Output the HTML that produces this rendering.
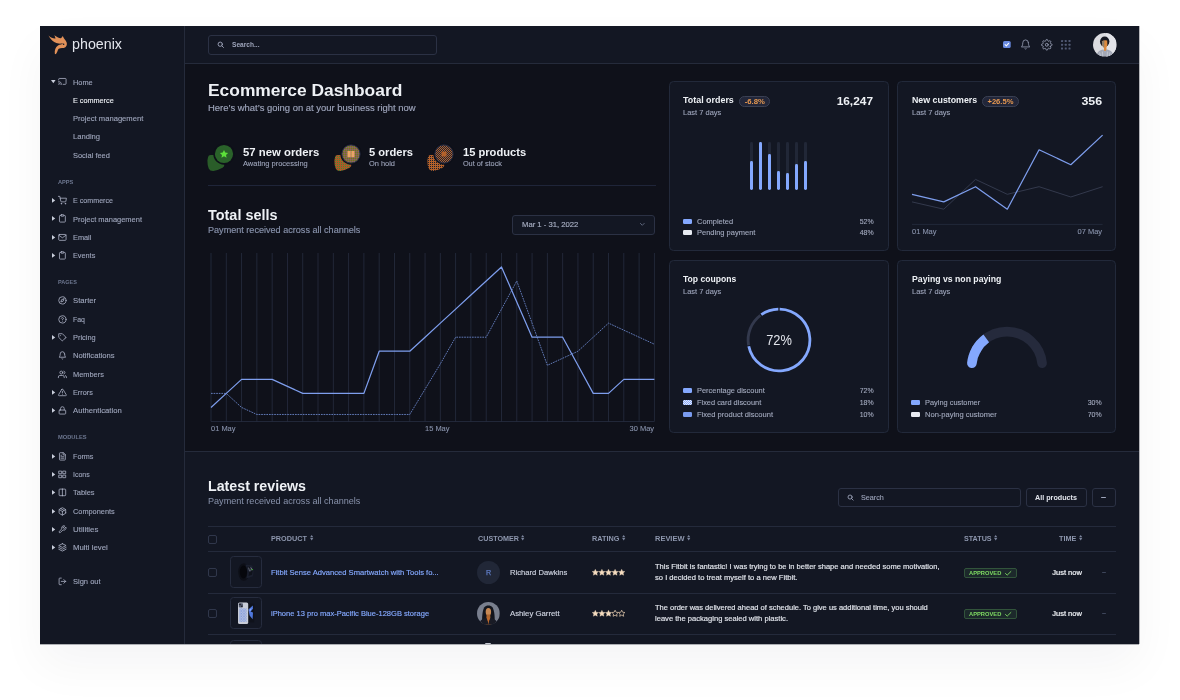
<!DOCTYPE html>
<html lang="en"><head><meta charset="utf-8"><title>Phoenix - Ecommerce Dashboard</title>
<style>
html,body{margin:0;padding:0;background:#fff;}
body{width:1180px;height:700px;overflow:hidden;position:relative;font-family:'Liberation Sans', sans-serif;}
#p{position:absolute;left:40px;top:26px;width:1099px;height:618px;background:#0f111a;overflow:hidden;box-shadow:0 22px 44px rgba(20,24,36,0.042);}
#q{position:absolute;left:0;top:0;width:1099px;height:618px;opacity:0.999;will-change:opacity;}
.b{position:absolute;box-sizing:border-box;}
.t{position:absolute;white-space:pre;line-height:1;margin:0;padding:0;font-weight:400;}
svg{overflow:visible;}
</style></head>
<body>
<div style="position:absolute;left:40px;top:644px;width:1099px;height:1px;background:rgba(20,24,36,0.32)"></div><div style="position:absolute;left:1139px;top:26px;width:1px;height:618px;background:rgba(20,24,36,0.3)"></div>
<div id="p"><div id="q">
<div class="b" style="left:0px;top:0px;width:145px;height:618px;background:#141824;"></div>
<div class="b" style="left:145px;top:0px;width:955px;height:37px;background:#141824;"></div>
<div class="b" style="left:144px;top:0px;width:1px;height:618px;background:#262c3c;"></div>
<div class="b" style="left:145px;top:37px;width:955px;height:1px;background:#262c3c;"></div>
<div class="b" style="left:145px;top:426px;width:955px;height:192px;background:#141824;"></div>
<div class="b" style="left:145px;top:425px;width:955px;height:1px;background:#262c3c;"></div>
<svg class="b" style="left:8px;top:9px;" width="19" height="19.5" viewBox="0 0 19 19.5"><path fill="#e3925a" d="M0.5 0.5 C3 3 5.5 3.6 7.5 3.4 C7.3 2 6.8 1 6.3 0.2 C8.5 1.6 10.5 3 13 3.2 C13.8 2.4 14.4 1.8 14.8 1 C15.3 2.6 16.2 4 17.6 5.6 C19.4 7.6 19.4 10.6 17.4 12.2 C15.4 13.6 12.6 12.4 10.8 13.8 C9.4 15 9.6 17.2 8 19 C7.4 19.3 6.9 19.2 6.8 18.6 C6.4 15.4 7.4 12.4 10 10.6 C11.8 9.4 14.2 9.6 15.2 8.6 C13.6 8.4 12.4 8.9 10.6 8.6 C7.6 8.2 4.6 6.4 2.4 3.6 C1.6 2.6 1 1.6 0.5 0.5 Z"/><circle cx="15.6" cy="9.3" r="0.8" fill="#141824"/></svg>
<div class="t" style="top:11px;font-size:14.6px;color:#e3e6ed;left:32px;transform:scaleX(0.9780);transform-origin:left center;">phoenix</div>
<div class="t" style="top:53px;font-size:8px;color:#9fa6bc;left:32.6px;transform:scaleX(0.9230);transform-origin:left center;-webkit-text-stroke:0.12px;">Home</div>
<svg class="b" style="left:17.9px;top:51.4px;" width="8.8" height="8.8" viewBox="0 0 24 24"><g fill="none" stroke="#b3b9cc" stroke-width="2.1" stroke-linecap="round" stroke-linejoin="round"><path d="M2 16.1A5 5 0 0 1 5.9 20M2 12.05A9 9 0 0 1 9.95 20M2 8V6a2 2 0 0 1 2-2h16a2 2 0 0 1 2 2v12a2 2 0 0 1-2 2h-6"/><line x1="2" y1="20" x2="2.01" y2="20"/></g></svg>
<svg class="b" style="left:10.9px;top:54.2px;" width="4.6" height="3.2" viewBox="0 0 4.6 3.2"><path d="M0 0H4.6L2.3 3.2Z" fill="#cbd0dd"/></svg>
<div class="t" style="top:71px;font-size:8px;color:#eff2f6;left:32.6px;transform:scaleX(0.9063);transform-origin:left center;-webkit-text-stroke:0.12px;">E commerce</div>
<div class="t" style="top:89px;font-size:8px;color:#9fa6bc;left:32.6px;transform:scaleX(0.9522);transform-origin:left center;-webkit-text-stroke:0.12px;">Project management</div>
<div class="t" style="top:107px;font-size:8px;color:#9fa6bc;left:32.6px;transform:scaleX(0.9514);transform-origin:left center;-webkit-text-stroke:0.12px;">Landing</div>
<div class="t" style="top:126px;font-size:8px;color:#9fa6bc;left:32.6px;transform:scaleX(0.9320);transform-origin:left center;-webkit-text-stroke:0.12px;">Social feed</div>
<div class="t" style="top:154px;font-size:5.9px;color:#6e7891;font-weight:700;left:17.8px;transform:scaleX(0.9597);transform-origin:left center;">APPS</div>
<div class="t" style="top:171px;font-size:8px;color:#9fa6bc;left:32.6px;transform:scaleX(0.8907);transform-origin:left center;-webkit-text-stroke:0.12px;">E commerce</div>
<svg class="b" style="left:17.9px;top:170px;" width="8.8" height="8.8" viewBox="0 0 24 24"><g fill="none" stroke="#b3b9cc" stroke-width="2.1" stroke-linecap="round" stroke-linejoin="round"><circle cx="9" cy="21" r="1"/><circle cx="20" cy="21" r="1"/><path d="M1 1h4l2.68 13.39a2 2 0 0 0 2 1.61h9.72a2 2 0 0 0 2-1.61L23 6H6"/></g></svg>
<svg class="b" style="left:11.9px;top:172px;" width="3.2" height="4.8" viewBox="0 0 3.2 4.8"><path d="M0 0L3.2 2.4L0 4.8Z" fill="#cbd0dd"/></svg>
<div class="t" style="top:190px;font-size:8px;color:#9fa6bc;left:32.6px;transform:scaleX(0.9346);transform-origin:left center;-webkit-text-stroke:0.12px;">Project management</div>
<svg class="b" style="left:17.9px;top:188.3px;" width="8.8" height="8.8" viewBox="0 0 24 24"><g fill="none" stroke="#b3b9cc" stroke-width="2.1" stroke-linecap="round" stroke-linejoin="round"><path d="M16 4h2a2 2 0 0 1 2 2v14a2 2 0 0 1-2 2H6a2 2 0 0 1-2-2V6a2 2 0 0 1 2-2h2"/><rect x="8" y="2" width="8" height="4" rx="1" ry="1"/></g></svg>
<svg class="b" style="left:11.9px;top:190.3px;" width="3.2" height="4.8" viewBox="0 0 3.2 4.8"><path d="M0 0L3.2 2.4L0 4.8Z" fill="#cbd0dd"/></svg>
<div class="t" style="top:208px;font-size:8px;color:#9fa6bc;left:32.6px;transform:scaleX(0.9193);transform-origin:left center;-webkit-text-stroke:0.12px;">Email</div>
<svg class="b" style="left:17.9px;top:206.6px;" width="8.8" height="8.8" viewBox="0 0 24 24"><g fill="none" stroke="#b3b9cc" stroke-width="2.1" stroke-linecap="round" stroke-linejoin="round"><path d="M4 4h16c1.1 0 2 .9 2 2v12c0 1.1-.9 2-2 2H4c-1.1 0-2-.9-2-2V6c0-1.1.9-2 2-2z"/><polyline points="22,6 12,13 2,6"/></g></svg>
<svg class="b" style="left:11.9px;top:208.6px;" width="3.2" height="4.8" viewBox="0 0 3.2 4.8"><path d="M0 0L3.2 2.4L0 4.8Z" fill="#cbd0dd"/></svg>
<div class="t" style="top:226px;font-size:8px;color:#9fa6bc;left:32.6px;transform:scaleX(0.9114);transform-origin:left center;-webkit-text-stroke:0.12px;">Events</div>
<svg class="b" style="left:17.9px;top:224.8px;" width="8.8" height="8.8" viewBox="0 0 24 24"><g fill="none" stroke="#b3b9cc" stroke-width="2.1" stroke-linecap="round" stroke-linejoin="round"><path d="M16 4h2a2 2 0 0 1 2 2v14a2 2 0 0 1-2 2H6a2 2 0 0 1-2-2V6a2 2 0 0 1 2-2h2"/><rect x="8" y="2" width="8" height="4" rx="1" ry="1"/></g></svg>
<svg class="b" style="left:11.9px;top:226.8px;" width="3.2" height="4.8" viewBox="0 0 3.2 4.8"><path d="M0 0L3.2 2.4L0 4.8Z" fill="#cbd0dd"/></svg>
<div class="t" style="top:254px;font-size:5.9px;color:#6e7891;font-weight:700;left:17.8px;transform:scaleX(0.9362);transform-origin:left center;">PAGES</div>
<div class="t" style="top:271px;font-size:8px;color:#9fa6bc;left:32.6px;transform:scaleX(0.9660);transform-origin:left center;-webkit-text-stroke:0.12px;">Starter</div>
<svg class="b" style="left:17.9px;top:270.2px;" width="8.8" height="8.8" viewBox="0 0 24 24"><g fill="none" stroke="#b3b9cc" stroke-width="2.1" stroke-linecap="round" stroke-linejoin="round"><circle cx="12" cy="12" r="10"/><polygon points="16.24 7.76 14.12 14.12 7.76 16.24 9.88 9.88 16.24 7.76"/></g></svg>
<div class="t" style="top:290px;font-size:8px;color:#9fa6bc;left:32.6px;transform:scaleX(0.8698);transform-origin:left center;-webkit-text-stroke:0.12px;">Faq</div>
<svg class="b" style="left:17.9px;top:288.6px;" width="8.8" height="8.8" viewBox="0 0 24 24"><g fill="none" stroke="#b3b9cc" stroke-width="2.1" stroke-linecap="round" stroke-linejoin="round"><circle cx="12" cy="12" r="10"/><path d="M9.09 9a3 3 0 0 1 5.83 1c0 2-3 3-3 3"/><line x1="12" y1="17" x2="12.01" y2="17"/></g></svg>
<div class="t" style="top:308px;font-size:8px;color:#9fa6bc;left:32.6px;transform:scaleX(0.9242);transform-origin:left center;-webkit-text-stroke:0.12px;">Pricing</div>
<svg class="b" style="left:17.9px;top:306.9px;" width="8.8" height="8.8" viewBox="0 0 24 24"><g fill="none" stroke="#b3b9cc" stroke-width="2.1" stroke-linecap="round" stroke-linejoin="round"><path d="M20.59 13.41l-7.17 7.17a2 2 0 0 1-2.83 0L2 12V2h10l8.59 8.59a2 2 0 0 1 0 2.82z"/><line x1="7" y1="7" x2="7.01" y2="7"/></g></svg>
<svg class="b" style="left:11.9px;top:308.9px;" width="3.2" height="4.8" viewBox="0 0 3.2 4.8"><path d="M0 0L3.2 2.4L0 4.8Z" fill="#cbd0dd"/></svg>
<div class="t" style="top:326px;font-size:8px;color:#9fa6bc;left:32.6px;transform:scaleX(0.9523);transform-origin:left center;-webkit-text-stroke:0.12px;">Notifications</div>
<svg class="b" style="left:17.9px;top:325.2px;" width="8.8" height="8.8" viewBox="0 0 24 24"><g fill="none" stroke="#b3b9cc" stroke-width="2.1" stroke-linecap="round" stroke-linejoin="round"><path d="M18 8A6 6 0 0 0 6 8c0 7-3 9-3 9h18s-3-2-3-9"/><path d="M13.73 21a2 2 0 0 1-3.46 0"/></g></svg>
<div class="t" style="top:345px;font-size:8px;color:#9fa6bc;left:32.6px;transform:scaleX(0.9267);transform-origin:left center;-webkit-text-stroke:0.12px;">Members</div>
<svg class="b" style="left:17.9px;top:343.6px;" width="8.8" height="8.8" viewBox="0 0 24 24"><g fill="none" stroke="#b3b9cc" stroke-width="2.1" stroke-linecap="round" stroke-linejoin="round"><path d="M17 21v-2a4 4 0 0 0-4-4H5a4 4 0 0 0-4 4v2"/><circle cx="9" cy="7" r="4"/><path d="M23 21v-2a4 4 0 0 0-3-3.87"/><path d="M16 3.13a4 4 0 0 1 0 7.75"/></g></svg>
<div class="t" style="top:363px;font-size:8px;color:#9fa6bc;left:32.6px;transform:scaleX(0.9136);transform-origin:left center;-webkit-text-stroke:0.12px;">Errors</div>
<svg class="b" style="left:17.9px;top:361.9px;" width="8.8" height="8.8" viewBox="0 0 24 24"><g fill="none" stroke="#b3b9cc" stroke-width="2.1" stroke-linecap="round" stroke-linejoin="round"><path d="M10.29 3.86L1.82 18a2 2 0 0 0 1.71 3h16.94a2 2 0 0 0 1.71-3L13.71 3.86a2 2 0 0 0-3.42 0z"/><line x1="12" y1="9" x2="12" y2="13"/><line x1="12" y1="17" x2="12.01" y2="17"/></g></svg>
<svg class="b" style="left:11.9px;top:363.9px;" width="3.2" height="4.8" viewBox="0 0 3.2 4.8"><path d="M0 0L3.2 2.4L0 4.8Z" fill="#cbd0dd"/></svg>
<div class="t" style="top:381px;font-size:8px;color:#9fa6bc;left:32.6px;transform:scaleX(0.9605);transform-origin:left center;-webkit-text-stroke:0.12px;">Authentication</div>
<svg class="b" style="left:17.9px;top:380px;" width="8.8" height="8.8" viewBox="0 0 24 24"><g fill="none" stroke="#b3b9cc" stroke-width="2.1" stroke-linecap="round" stroke-linejoin="round"><rect x="3" y="11" width="18" height="11" rx="2" ry="2"/><path d="M7 11V7a5 5 0 0 1 10 0v4"/></g></svg>
<svg class="b" style="left:11.9px;top:382px;" width="3.2" height="4.8" viewBox="0 0 3.2 4.8"><path d="M0 0L3.2 2.4L0 4.8Z" fill="#cbd0dd"/></svg>
<div class="t" style="top:409px;font-size:5.9px;color:#6e7891;font-weight:700;left:17.8px;transform:scaleX(0.9705);transform-origin:left center;">MODULES</div>
<div class="t" style="top:427px;font-size:8px;color:#9fa6bc;left:32.6px;transform:scaleX(0.8998);transform-origin:left center;-webkit-text-stroke:0.12px;">Forms</div>
<svg class="b" style="left:17.9px;top:425.6px;" width="8.8" height="8.8" viewBox="0 0 24 24"><g fill="none" stroke="#b3b9cc" stroke-width="2.1" stroke-linecap="round" stroke-linejoin="round"><path d="M14 2H6a2 2 0 0 0-2 2v16a2 2 0 0 0 2 2h12a2 2 0 0 0 2-2V8z"/><polyline points="14 2 14 8 20 8"/><line x1="16" y1="13" x2="8" y2="13"/><line x1="16" y1="17" x2="8" y2="17"/><polyline points="10 9 9 9 8 9"/></g></svg>
<svg class="b" style="left:11.9px;top:427.6px;" width="3.2" height="4.8" viewBox="0 0 3.2 4.8"><path d="M0 0L3.2 2.4L0 4.8Z" fill="#cbd0dd"/></svg>
<div class="t" style="top:445px;font-size:8px;color:#9fa6bc;left:32.6px;transform:scaleX(0.8784);transform-origin:left center;-webkit-text-stroke:0.12px;">Icons</div>
<svg class="b" style="left:17.9px;top:444px;" width="8.8" height="8.8" viewBox="0 0 24 24"><g fill="none" stroke="#b3b9cc" stroke-width="2.1" stroke-linecap="round" stroke-linejoin="round"><rect x="3" y="3" width="7" height="7"/><rect x="14" y="3" width="7" height="7"/><rect x="14" y="14" width="7" height="7"/><rect x="3" y="14" width="7" height="7"/></g></svg>
<svg class="b" style="left:11.9px;top:446px;" width="3.2" height="4.8" viewBox="0 0 3.2 4.8"><path d="M0 0L3.2 2.4L0 4.8Z" fill="#cbd0dd"/></svg>
<div class="t" style="top:463px;font-size:8px;color:#9fa6bc;left:32.6px;transform:scaleX(0.9341);transform-origin:left center;-webkit-text-stroke:0.12px;">Tables</div>
<svg class="b" style="left:17.9px;top:462.2px;" width="8.8" height="8.8" viewBox="0 0 24 24"><g fill="none" stroke="#b3b9cc" stroke-width="2.1" stroke-linecap="round" stroke-linejoin="round"><path d="M12 3h7a2 2 0 0 1 2 2v14a2 2 0 0 1-2 2h-7m0-18H5a2 2 0 0 0-2 2v14a2 2 0 0 0 2 2h7m0-18v18"/></g></svg>
<svg class="b" style="left:11.9px;top:464.2px;" width="3.2" height="4.8" viewBox="0 0 3.2 4.8"><path d="M0 0L3.2 2.4L0 4.8Z" fill="#cbd0dd"/></svg>
<div class="t" style="top:482px;font-size:8px;color:#9fa6bc;left:32.6px;transform:scaleX(0.9193);transform-origin:left center;-webkit-text-stroke:0.12px;">Components</div>
<svg class="b" style="left:17.9px;top:480.6px;" width="8.8" height="8.8" viewBox="0 0 24 24"><g fill="none" stroke="#b3b9cc" stroke-width="2.1" stroke-linecap="round" stroke-linejoin="round"><line x1="16.5" y1="9.4" x2="7.5" y2="4.21"/><path d="M21 16V8a2 2 0 0 0-1-1.73l-7-4a2 2 0 0 0-2 0l-7 4A2 2 0 0 0 3 8v8a2 2 0 0 0 1 1.73l7 4a2 2 0 0 0 2 0l7-4A2 2 0 0 0 21 16z"/><polyline points="3.27 6.96 12 12.01 20.73 6.96"/><line x1="12" y1="22.08" x2="12" y2="12"/></g></svg>
<svg class="b" style="left:11.9px;top:482.6px;" width="3.2" height="4.8" viewBox="0 0 3.2 4.8"><path d="M0 0L3.2 2.4L0 4.8Z" fill="#cbd0dd"/></svg>
<div class="t" style="top:500px;font-size:8px;color:#9fa6bc;left:32.6px;transform:scaleX(0.9852);transform-origin:left center;-webkit-text-stroke:0.12px;">Utilities</div>
<svg class="b" style="left:17.9px;top:498.9px;" width="8.8" height="8.8" viewBox="0 0 24 24"><g fill="none" stroke="#b3b9cc" stroke-width="2.1" stroke-linecap="round" stroke-linejoin="round"><path d="M14.7 6.3a1 1 0 0 0 0 1.4l1.6 1.6a1 1 0 0 0 1.4 0l3.77-3.77a6 6 0 0 1-7.94 7.94l-6.91 6.91a2.12 2.12 0 0 1-3-3l6.91-6.91a6 6 0 0 1 7.94-7.94l-3.76 3.76z"/></g></svg>
<svg class="b" style="left:11.9px;top:500.9px;" width="3.2" height="4.8" viewBox="0 0 3.2 4.8"><path d="M0 0L3.2 2.4L0 4.8Z" fill="#cbd0dd"/></svg>
<div class="t" style="top:518px;font-size:8px;color:#9fa6bc;left:32.6px;transform:scaleX(0.9781);transform-origin:left center;-webkit-text-stroke:0.12px;">Multi level</div>
<svg class="b" style="left:17.9px;top:517.1px;" width="8.8" height="8.8" viewBox="0 0 24 24"><g fill="none" stroke="#b3b9cc" stroke-width="2.1" stroke-linecap="round" stroke-linejoin="round"><polygon points="12 2 2 7 12 12 22 7 12 2"/><polyline points="2 17 12 22 22 17"/><polyline points="2 12 12 17 22 12"/></g></svg>
<svg class="b" style="left:11.9px;top:519.1px;" width="3.2" height="4.8" viewBox="0 0 3.2 4.8"><path d="M0 0L3.2 2.4L0 4.8Z" fill="#cbd0dd"/></svg>
<div class="t" style="top:552px;font-size:8px;color:#9fa6bc;left:32.6px;transform:scaleX(0.9401);transform-origin:left center;-webkit-text-stroke:0.12px;">Sign out</div>
<svg class="b" style="left:17.9px;top:550.6px;" width="8.8" height="8.8" viewBox="0 0 24 24"><g fill="none" stroke="#b3b9cc" stroke-width="2.1" stroke-linecap="round" stroke-linejoin="round"><path d="M9 21H5a2 2 0 0 1-2-2V5a2 2 0 0 1 2-2h4"/><polyline points="16 17 21 12 16 7"/><line x1="21" y1="12" x2="9" y2="12"/></g></svg>
<div class="b" style="left:168px;top:9px;width:229px;height:19.5px;background:#141824;border:1px solid #2c3245;border-radius:3px;"></div>
<svg class="b" style="left:176.7px;top:15px;" width="7.4" height="7.4" viewBox="0 0 24 24"><g fill="none" stroke="#9fa6bc" stroke-width="3" stroke-linecap="round" stroke-linejoin="round"><circle cx="10.5" cy="10.5" r="7"/><line x1="21" y1="21" x2="15.6" y2="15.6"/></g></svg>
<div class="t" style="top:16px;font-size:7.1px;color:#9fa6bc;font-weight:700;left:191.5px;transform:scaleX(0.9297);transform-origin:left center;">Search...</div>
<svg class="b" style="left:963.3px;top:15.2px;" width="7.7" height="7" viewBox="0 0 7.7 7"><rect width="7.7" height="7" rx="1.6" fill="#6a8be0"/><path d="M2.1 3.7L3.3 4.9L5.6 2.3" fill="none" stroke="#fff" stroke-width="1.1" stroke-linecap="round" stroke-linejoin="round"/></svg>
<svg class="b" style="left:980.3px;top:13px;" width="11.2" height="11.2" viewBox="0 0 24 24"><g fill="none" stroke="#9fa6bc" stroke-width="1.7" stroke-linecap="round" stroke-linejoin="round"><path d="M18 8A6 6 0 0 0 6 8c0 7-3 9-3 9h18s-3-2-3-9"/><path d="M13.73 21a2 2 0 0 1-3.46 0"/></g></svg>
<svg class="b" style="left:1000.6px;top:12.8px;" width="11.6" height="11.6" viewBox="0 0 24 24"><g fill="none" stroke="#9fa6bc" stroke-width="1.7" stroke-linecap="round" stroke-linejoin="round"><circle cx="12" cy="12" r="3"/><path d="M19.4 15a1.65 1.65 0 0 0 .33 1.82l.06.06a2 2 0 0 1 0 2.83 2 2 0 0 1-2.83 0l-.06-.06a1.65 1.65 0 0 0-1.82-.33 1.65 1.65 0 0 0-1 1.51V21a2 2 0 0 1-2 2 2 2 0 0 1-2-2v-.09A1.65 1.65 0 0 0 9 19.4a1.65 1.65 0 0 0-1.82.33l-.06.06a2 2 0 0 1-2.83 0 2 2 0 0 1 0-2.83l.06-.06a1.65 1.65 0 0 0 .33-1.82 1.65 1.65 0 0 0-1.51-1H3a2 2 0 0 1-2-2 2 2 0 0 1 2-2h.09A1.65 1.65 0 0 0 4.6 9a1.65 1.65 0 0 0-.33-1.82l-.06-.06a2 2 0 0 1 0-2.83 2 2 0 0 1 2.83 0l.06.06a1.65 1.65 0 0 0 1.82.33H9a1.65 1.65 0 0 0 1-1.51V3a2 2 0 0 1 2-2 2 2 0 0 1 2 2v.09a1.65 1.65 0 0 0 1 1.51 1.65 1.65 0 0 0 1.82-.33l.06-.06a2 2 0 0 1 2.83 0 2 2 0 0 1 0 2.83l-.06.06a1.65 1.65 0 0 0-.33 1.82V9a1.65 1.65 0 0 0 1.51 1H21a2 2 0 0 1 2 2 2 2 0 0 1-2 2h-.09a1.65 1.65 0 0 0-1.51 1z"/></g></svg>
<svg class="b" style="left:1021.1px;top:14px;" width="9.5" height="9.4" viewBox="0 0 9.5 9.4"><rect x="0.0" y="0.0" width="2" height="2" rx="0.5" fill="#525b75"/><rect x="0.0" y="3.7" width="2" height="2" rx="0.5" fill="#525b75"/><rect x="0.0" y="7.4" width="2" height="2" rx="0.5" fill="#525b75"/><rect x="3.75" y="0.0" width="2" height="2" rx="0.5" fill="#525b75"/><rect x="3.75" y="3.7" width="2" height="2" rx="0.5" fill="#525b75"/><rect x="3.75" y="7.4" width="2" height="2" rx="0.5" fill="#525b75"/><rect x="7.5" y="0.0" width="2" height="2" rx="0.5" fill="#525b75"/><rect x="7.5" y="3.7" width="2" height="2" rx="0.5" fill="#525b75"/><rect x="7.5" y="7.4" width="2" height="2" rx="0.5" fill="#525b75"/></svg>
<svg class="b" style="left:1053px;top:6.6px;" width="23.6" height="23.6" viewBox="0 0 23.6 23.6"><defs><clipPath id="av"><circle cx="11.8" cy="11.8" r="11.8"/></clipPath></defs><g clip-path="url(#av)"><rect width="23.6" height="23.6" fill="#dcdde1"/><rect x="13" width="10.6" height="23.6" fill="#e4e5ea"/><ellipse cx="11.7" cy="8.6" rx="4.7" ry="5.1" fill="#171a24"/><path d="M8.9 8.2Q11.6 6.8 14.2 7.6L14.4 12.6L13.4 14.6L13.8 18.2H10.8L11 15L9.2 12.6Z" fill="#dd8a3e"/><path d="M8.9 8.4L11.4 7.6L11.2 15L9.3 12.6Z" fill="#8d8170"/><path d="M3.4 23.6C3.8 19.2 6.6 17 10.2 16.6L12 18.4L13.8 16.6C17.4 17 20.2 19.2 20.6 23.6Z" fill="#a4a9b7"/><path d="M6.6 19.4L7.6 23.6M9.4 18.6L9.8 23.6M14.4 18.6L14.2 23.6M17 19.4L16.4 23.6" stroke="#c9cdd7" stroke-width="0.8" fill="none"/></g></svg>
<div class="t" style="top:56px;font-size:17.4px;color:#eff2f6;font-weight:700;left:168px;">Ecommerce Dashboard</div>
<div class="t" style="top:78px;font-size:9.17px;color:#9fa6bc;left:168px;transform:scaleX(1.0317);transform-origin:left center;-webkit-text-stroke:0.15px;">Here’s what’s going on at your business right now</div>
<svg class="b" style="left:166px;top:117.1px;" width="30" height="30" viewBox="-18 -11 30 30"><defs></defs><path d="M-16 3.2 Q-15.6 1.2 -13.4 1.1 L-6 1 L0.3 10.5 Q0.8 12.6 -1.4 13.8 Q-5.6 16.2 -10.6 17 Q-14 17.2 -15.3 14.4 Q-16.7 10.6 -16.6 6.4 Z" fill="#2b5e2a"/><circle cx="0" cy="0" r="10.7" fill="#0f111a"/><circle cx="0" cy="0" r="9.1" fill="#2b632b"/><path d="M0 -4.1L1.25 -1.45L4.1 -1.1L2 0.9L2.55 3.7L0 2.3L-2.55 3.7L-2 0.9L-4.1 -1.1L-1.25 -1.45Z" fill="#5de23a"/></svg>
<svg class="b" style="left:293px;top:117px;" width="30" height="30" viewBox="-18 -11 30 30"><defs><pattern id="p2" width="2" height="2" patternUnits="userSpaceOnUse"><rect width="2" height="2" fill="#ac5c28"/><rect x="0" y="0" width="1" height="1" fill="#4a8438"/></pattern><pattern id="p2b" width="2" height="2" patternUnits="userSpaceOnUse"><rect width="2" height="2" fill="#a85c2a"/><rect x="0" y="0" width="1" height="1" fill="#4a8438"/><rect x="1" y="1" width="1" height="1" fill="#6a6f86"/></pattern></defs><path d="M-16 3.2 Q-15.6 1.2 -13.4 1.1 L-6 1 L0.3 10.5 Q0.8 12.6 -1.4 13.8 Q-5.6 16.2 -10.6 17 Q-14 17.2 -15.3 14.4 Q-16.7 10.6 -16.6 6.4 Z" fill="url(#p2)"/><circle cx="0" cy="0" r="10.7" fill="#0f111a"/><circle cx="0" cy="0" r="9.1" fill="url(#p2b)" stroke="#283049" stroke-width="0.9"/><rect x="-3.5" y="-3.1" width="3.2" height="6.3" fill="#eaa568"/><rect x="0.3" y="-3.1" width="3.2" height="6.3" fill="#eaa568"/></svg>
<svg class="b" style="left:386px;top:117px;" width="30" height="30" viewBox="-18 -11 30 30"><defs><pattern id="p3" width="2" height="2" patternUnits="userSpaceOnUse"><rect width="2" height="2" fill="#b5622b"/><rect x="0" y="0" width="1" height="1" fill="#1a1f2e"/></pattern><pattern id="p3b" width="2" height="2" patternUnits="userSpaceOnUse"><rect width="2" height="2" fill="#1e2638"/><rect x="0" y="0" width="1" height="1" fill="#b5622b"/><rect x="1" y="1" width="1" height="1" fill="#b5622b"/></pattern></defs><path d="M-16 3.2 Q-15.6 1.2 -13.4 1.1 L-6 1 L0.3 10.5 Q0.8 12.6 -1.4 13.8 Q-5.6 16.2 -10.6 17 Q-14 17.2 -15.3 14.4 Q-16.7 10.6 -16.6 6.4 Z" fill="url(#p3)"/><circle cx="0" cy="0" r="10.7" fill="#0f111a"/><circle cx="0" cy="0" r="9.1" fill="url(#p3b)" stroke="#283049" stroke-width="0.9"/><rect x="-2.4" y="-2.4" width="4.8" height="4.8" fill="#b5622b"/></svg>
<div class="t" style="top:121px;font-size:11.46px;color:#eff2f6;font-weight:700;left:203.3px;transform:scaleX(0.9905);transform-origin:left center;">57 new orders</div>
<div class="t" style="top:134px;font-size:7.33px;color:#9fa6bc;-webkit-text-stroke:0.1px;left:203.3px;transform:scaleX(1.0202);transform-origin:left center;">Awating processing</div>
<div class="t" style="top:121px;font-size:11.46px;color:#eff2f6;font-weight:700;left:329.2px;transform:scaleX(0.9712);transform-origin:left center;">5 orders</div>
<div class="t" style="top:134px;font-size:7.33px;color:#9fa6bc;-webkit-text-stroke:0.1px;left:329.2px;transform:scaleX(1.0128);transform-origin:left center;">On hold</div>
<div class="t" style="top:121px;font-size:11.46px;color:#eff2f6;font-weight:700;left:422.9px;transform:scaleX(0.9719);transform-origin:left center;">15 products</div>
<div class="t" style="top:134px;font-size:7.33px;color:#9fa6bc;-webkit-text-stroke:0.1px;left:422.9px;">Out of stock</div>
<div class="b" style="left:168px;top:159px;width:447.5px;height:1px;background:#20263a;"></div>
<div class="t" style="top:182px;font-size:14.3px;color:#eff2f6;font-weight:700;left:168px;transform:scaleX(1.0091);transform-origin:left center;">Total sells</div>
<div class="t" style="top:200px;font-size:9.17px;color:#8a94ad;left:168px;transform:scaleX(0.9915);transform-origin:left center;-webkit-text-stroke:0.15px;">Payment received across all channels</div>
<div class="b" style="left:472.2px;top:189.2px;width:143px;height:19.4px;background:#141824;border:1px solid #2c3245;border-radius:3px;"></div>
<div class="t" style="top:195px;font-size:7.33px;color:#a7aec2;left:481.7px;transform:scaleX(1.0468);transform-origin:left center;-webkit-text-stroke:0.16px;">Mar 1 - 31, 2022</div>
<svg class="b" style="left:600.2px;top:197.3px;" width="4.6" height="2.8" viewBox="0 0 4.6 2.8"><path d="M0.4 0.4L2.3 2.3L4.2 0.4" fill="none" stroke="#6e7891" stroke-width="0.8" stroke-linecap="round" stroke-linejoin="round"/></svg>
<svg class="b" style="left:170.6px;top:226.9px;" width="443.4" height="168.5" viewBox="0 0 443.40 168.50"><line x1="0.00" y1="0" x2="0.00" y2="168.50" stroke="#2d3347" stroke-width="0.7"/><line x1="15.29" y1="0" x2="15.29" y2="168.50" stroke="#2d3347" stroke-width="0.7"/><line x1="30.58" y1="0" x2="30.58" y2="168.50" stroke="#2d3347" stroke-width="0.7"/><line x1="45.87" y1="0" x2="45.87" y2="168.50" stroke="#2d3347" stroke-width="0.7"/><line x1="61.16" y1="0" x2="61.16" y2="168.50" stroke="#2d3347" stroke-width="0.7"/><line x1="76.45" y1="0" x2="76.45" y2="168.50" stroke="#2d3347" stroke-width="0.7"/><line x1="91.74" y1="0" x2="91.74" y2="168.50" stroke="#2d3347" stroke-width="0.7"/><line x1="107.03" y1="0" x2="107.03" y2="168.50" stroke="#2d3347" stroke-width="0.7"/><line x1="122.32" y1="0" x2="122.32" y2="168.50" stroke="#2d3347" stroke-width="0.7"/><line x1="137.61" y1="0" x2="137.61" y2="168.50" stroke="#2d3347" stroke-width="0.7"/><line x1="152.90" y1="0" x2="152.90" y2="168.50" stroke="#2d3347" stroke-width="0.7"/><line x1="168.19" y1="0" x2="168.19" y2="168.50" stroke="#2d3347" stroke-width="0.7"/><line x1="183.48" y1="0" x2="183.48" y2="168.50" stroke="#2d3347" stroke-width="0.7"/><line x1="198.77" y1="0" x2="198.77" y2="168.50" stroke="#2d3347" stroke-width="0.7"/><line x1="214.06" y1="0" x2="214.06" y2="168.50" stroke="#2d3347" stroke-width="0.7"/><line x1="229.34" y1="0" x2="229.34" y2="168.50" stroke="#2d3347" stroke-width="0.7"/><line x1="244.63" y1="0" x2="244.63" y2="168.50" stroke="#2d3347" stroke-width="0.7"/><line x1="259.92" y1="0" x2="259.92" y2="168.50" stroke="#2d3347" stroke-width="0.7"/><line x1="275.21" y1="0" x2="275.21" y2="168.50" stroke="#2d3347" stroke-width="0.7"/><line x1="290.50" y1="0" x2="290.50" y2="168.50" stroke="#2d3347" stroke-width="0.7"/><line x1="305.79" y1="0" x2="305.79" y2="168.50" stroke="#2d3347" stroke-width="0.7"/><line x1="321.08" y1="0" x2="321.08" y2="168.50" stroke="#2d3347" stroke-width="0.7"/><line x1="336.37" y1="0" x2="336.37" y2="168.50" stroke="#2d3347" stroke-width="0.7"/><line x1="351.66" y1="0" x2="351.66" y2="168.50" stroke="#2d3347" stroke-width="0.7"/><line x1="366.95" y1="0" x2="366.95" y2="168.50" stroke="#2d3347" stroke-width="0.7"/><line x1="382.24" y1="0" x2="382.24" y2="168.50" stroke="#2d3347" stroke-width="0.7"/><line x1="397.53" y1="0" x2="397.53" y2="168.50" stroke="#2d3347" stroke-width="0.7"/><line x1="412.82" y1="0" x2="412.82" y2="168.50" stroke="#2d3347" stroke-width="0.7"/><line x1="428.11" y1="0" x2="428.11" y2="168.50" stroke="#2d3347" stroke-width="0.7"/><line x1="443.40" y1="0" x2="443.40" y2="168.50" stroke="#2d3347" stroke-width="0.7"/><line x1="0" y1="168.50" x2="443.40" y2="168.50" stroke="#2d3347" stroke-width="0.7"/><polyline points="0.00,140.40 15.29,140.40 30.58,154.45 45.87,161.47 61.16,161.47 76.45,161.47 91.74,161.47 107.03,161.47 122.32,161.47 137.61,161.47 152.90,161.47 168.19,161.47 183.48,161.47 198.77,161.47 214.06,136.18 229.34,110.89 244.63,84.20 259.92,84.20 275.21,84.20 290.50,56.10 305.79,28.00 321.08,70.15 336.37,112.30 351.66,105.27 366.95,98.25 382.24,84.20 397.53,70.15 412.82,77.17 428.11,84.20 443.40,91.22" fill="none" stroke="#7796e0" stroke-width="0.8" stroke-dasharray="1.7 0.9" stroke-linejoin="round"/><polyline points="0.00,154.45 15.29,140.40 30.58,126.35 45.87,126.35 61.16,126.35 76.45,133.37 91.74,140.40 107.03,140.40 122.32,140.40 137.61,140.40 152.90,140.40 168.19,98.25 183.48,98.25 198.77,98.25 214.06,84.20 229.34,70.15 244.63,56.10 259.92,42.05 275.21,28.00 290.50,13.95 305.79,49.07 321.08,84.20 336.37,84.20 351.66,84.20 366.95,112.30 382.24,140.40 397.53,140.40 412.82,126.35 428.11,126.35 443.40,126.35" fill="none" stroke="#7f9fee" stroke-width="1.25" stroke-linejoin="round"/></svg>
<div class="t" style="top:399px;font-size:7.33px;color:#8a94ad;-webkit-text-stroke:0.1px;left:170.6px;transform:scaleX(1.0195);transform-origin:left center;">01 May</div>
<div class="t" style="top:399px;font-size:7.33px;color:#8a94ad;-webkit-text-stroke:0.1px;left:385.1px;transform:scaleX(1.0195);transform-origin:left center;">15 May</div>
<div class="t" style="top:399px;font-size:7.33px;color:#8a94ad;-webkit-text-stroke:0.1px;left:589.97px;transform:scaleX(1.0195);transform-origin:right center;">30 May</div>
<div class="b" style="left:629px;top:55px;width:219.5px;height:169.5px;background:#141824;border:1px solid #232a3b;border-radius:4.5px;"></div>
<div class="b" style="left:857.4px;top:55px;width:219px;height:169.5px;background:#141824;border:1px solid #232a3b;border-radius:4.5px;"></div>
<div class="b" style="left:629px;top:234px;width:219.5px;height:172.5px;background:#141824;border:1px solid #232a3b;border-radius:4.5px;"></div>
<div class="b" style="left:857.4px;top:234px;width:219px;height:172.5px;background:#141824;border:1px solid #232a3b;border-radius:4.5px;"></div>
<div class="t" style="top:70px;font-size:9.17px;color:#eff2f6;font-weight:700;left:643.3px;transform:scaleX(0.9725);transform-origin:left center;">Total orders</div>
<div class="b" style="left:699.1px;top:70.1px;width:31px;height:10.6px;background:#23273a;border:1px solid #3b4154;border-radius:5.3px;"></div>
<div class="t" style="top:73px;font-size:6.7px;color:#e89a52;font-weight:700;left:705.86px;transform:scaleX(1.1553);transform-origin:center center;">-6.8%</div>
<div class="t" style="top:83px;font-size:7.33px;color:#9fa6bc;-webkit-text-stroke:0.1px;left:643.3px;transform:scaleX(1.0218);transform-origin:left center;">Last 7 days</div>
<div class="t" style="top:70px;font-size:11.46px;color:#eff2f6;font-weight:700;left:798.37px;transform:scaleX(1.0391);transform-origin:right center;">16,247</div>
<div class="b" style="left:709.8px;top:116px;width:2.8px;height:48px;background:#222838;border-radius:1.4px;"></div>
<div class="b" style="left:709.8px;top:135.2px;width:2.8px;height:28.8px;background:#85a9ff;border-radius:1.4px;"></div>
<div class="b" style="left:719px;top:116px;width:2.8px;height:48px;background:#222838;border-radius:1.4px;"></div>
<div class="b" style="left:719px;top:116px;width:2.8px;height:48px;background:#85a9ff;border-radius:1.4px;"></div>
<div class="b" style="left:728px;top:116px;width:2.8px;height:48px;background:#222838;border-radius:1.4px;"></div>
<div class="b" style="left:728px;top:127.6px;width:2.8px;height:36.4px;background:#85a9ff;border-radius:1.4px;"></div>
<div class="b" style="left:737px;top:116px;width:2.8px;height:48px;background:#222838;border-radius:1.4px;"></div>
<div class="b" style="left:737px;top:145px;width:2.8px;height:19px;background:#85a9ff;border-radius:1.4px;"></div>
<div class="b" style="left:746px;top:116px;width:2.8px;height:48px;background:#222838;border-radius:1.4px;"></div>
<div class="b" style="left:746px;top:147.2px;width:2.8px;height:16.8px;background:#85a9ff;border-radius:1.4px;"></div>
<div class="b" style="left:755.1px;top:116px;width:2.8px;height:48px;background:#222838;border-radius:1.4px;"></div>
<div class="b" style="left:755.1px;top:137.7px;width:2.8px;height:26.3px;background:#85a9ff;border-radius:1.4px;"></div>
<div class="b" style="left:764.1px;top:116px;width:2.8px;height:48px;background:#222838;border-radius:1.4px;"></div>
<div class="b" style="left:764.1px;top:135.2px;width:2.8px;height:28.8px;background:#85a9ff;border-radius:1.4px;"></div>
<div class="b" style="left:643px;top:193px;width:9px;height:4.6px;background:#85a9ff;border-radius:1.2px;"></div>
<div class="t" style="top:192px;font-size:7.33px;color:#a5acc0;left:656.9px;transform:scaleX(1.0182);transform-origin:left center;-webkit-text-stroke:0.1px;">Completed</div>
<div class="t" style="top:192px;font-size:7.33px;color:#a5acc0;left:818.73px;transform:scaleX(0.9500);transform-origin:right center;-webkit-text-stroke:0.1px;">52%</div>
<div class="b" style="left:643px;top:204px;width:9px;height:4.6px;background:#e9ecf3;border-radius:1.2px;"></div>
<div class="t" style="top:203px;font-size:7.33px;color:#a5acc0;left:656.9px;transform:scaleX(1.0237);transform-origin:left center;-webkit-text-stroke:0.1px;">Pending payment</div>
<div class="t" style="top:203px;font-size:7.33px;color:#a5acc0;left:818.73px;transform:scaleX(0.9500);transform-origin:right center;-webkit-text-stroke:0.1px;">48%</div>
<div class="t" style="top:70px;font-size:9.17px;color:#eff2f6;font-weight:700;left:871.7px;transform:scaleX(0.9633);transform-origin:left center;">New customers</div>
<div class="b" style="left:942.3px;top:70.1px;width:36.4px;height:10.6px;background:#23273a;border:1px solid #3b4154;border-radius:5.3px;"></div>
<div class="t" style="top:73px;font-size:6.7px;color:#e89a52;font-weight:700;left:949.06px;transform:scaleX(1.1366);transform-origin:center center;">+26.5%</div>
<div class="t" style="top:83px;font-size:7.33px;color:#9fa6bc;-webkit-text-stroke:0.1px;left:871.7px;transform:scaleX(1.0218);transform-origin:left center;">Last 7 days</div>
<div class="t" style="top:70px;font-size:11.46px;color:#eff2f6;font-weight:700;left:1043.19px;transform:scaleX(1.0832);transform-origin:right center;">356</div>
<svg class="b" style="left:871.7px;top:104px;" width="190.6" height="100" viewBox="0 0 190.60 100"><polyline points="0.00,71.90 31.77,79.20 63.53,49.40 95.30,64.30 127.07,56.70 158.83,67.00 190.60,56.70" fill="none" stroke="#343a4d" stroke-width="1" stroke-linejoin="round"/><polyline points="0.00,64.30 31.77,71.90 63.53,56.70 95.30,79.20 127.07,19.80 158.83,34.70 190.60,5.10" fill="none" stroke="#7f9fee" stroke-width="1.25" stroke-linejoin="round"/><line x1="0" y1="94.4" x2="190.60" y2="94.4" stroke="#2a3043" stroke-width="0.7"/></svg>
<div class="t" style="top:202px;font-size:7.33px;color:#8a94ad;-webkit-text-stroke:0.1px;left:871.7px;transform:scaleX(1.0195);transform-origin:left center;">01 May</div>
<div class="t" style="top:202px;font-size:7.33px;color:#8a94ad;-webkit-text-stroke:0.1px;left:1038.27px;transform:scaleX(1.0195);transform-origin:right center;">07 May</div>
<div class="t" style="top:249px;font-size:9.17px;color:#eff2f6;font-weight:700;left:643.4px;transform:scaleX(0.9367);transform-origin:left center;">Top coupons</div>
<div class="t" style="top:262px;font-size:7.33px;color:#9fa6bc;-webkit-text-stroke:0.1px;left:643.3px;transform:scaleX(1.0218);transform-origin:left center;">Last 7 days</div>
<svg class="b" style="left:704.6px;top:280px;" width="68" height="68" viewBox="0 0 68 68"><path d="M34.65 3.11A30.9 30.9 0 1 1 3.75 40.32" fill="none" stroke="#85a9ff" stroke-width="2.8"/><path d="M3.55 39.26A30.9 30.9 0 0 1 15.40 9.32" fill="none" stroke="#343a4e" stroke-width="2.8"/><path d="M16.28 8.69A30.9 30.9 0 0 1 33.35 3.11" fill="none" stroke="#85a9ff" stroke-width="2.8"/></svg>
<div class="t" style="top:307px;font-size:14px;color:#e3e6ed;left:724.58px;transform:scaleX(0.9168);transform-origin:center center;">72%</div>
<div class="b" style="left:643px;top:362px;width:9px;height:4.6px;background:#85a9ff;border-radius:1.2px;"></div>
<div class="t" style="top:361px;font-size:7.33px;color:#a5acc0;left:657px;transform:scaleX(1.0133);transform-origin:left center;-webkit-text-stroke:0.1px;">Percentage discount</div>
<div class="t" style="top:361px;font-size:7.33px;color:#a5acc0;left:818.73px;transform:scaleX(0.9500);transform-origin:right center;-webkit-text-stroke:0.1px;">72%</div>
<div class="b" style="left:643px;top:374px;width:9px;height:4.6px;background:repeating-conic-gradient(#e6eaf6 0 25%, #85a9ff 0 50%) 0 0/2px 2px;border-radius:1.2px;"></div>
<div class="t" style="top:373px;font-size:7.33px;color:#a5acc0;left:657px;transform:scaleX(1.0103);transform-origin:left center;-webkit-text-stroke:0.1px;">Fixed card discount</div>
<div class="t" style="top:373px;font-size:7.33px;color:#a5acc0;left:818.73px;transform:scaleX(0.9500);transform-origin:right center;-webkit-text-stroke:0.1px;">18%</div>
<div class="b" style="left:643px;top:386px;width:9px;height:4.6px;background:#7b9cf0;border-radius:1.2px;"></div>
<div class="t" style="top:385px;font-size:7.33px;color:#a5acc0;left:657px;transform:scaleX(1.0307);transform-origin:left center;-webkit-text-stroke:0.1px;">Fixed product discount</div>
<div class="t" style="top:385px;font-size:7.33px;color:#a5acc0;left:818.73px;transform:scaleX(0.9500);transform-origin:right center;-webkit-text-stroke:0.1px;">10%</div>
<div class="t" style="top:249px;font-size:9.17px;color:#eff2f6;font-weight:700;left:871.7px;transform:scaleX(0.9498);transform-origin:left center;">Paying vs non paying</div>
<div class="t" style="top:262px;font-size:7.33px;color:#9fa6bc;-webkit-text-stroke:0.1px;left:871.7px;transform:scaleX(1.0218);transform-origin:left center;">Last 7 days</div>
<svg class="b" style="left:916.9px;top:290.7px;" width="100" height="60" viewBox="0 0 100 60"><path d="M14.89 46.31A35.3 35.3 0 0 1 85.11 46.31" fill="none" stroke="#262b3d" stroke-width="9.6" stroke-linecap="round"/><path d="M14.89 46.31A35.3 35.3 0 0 1 19.43 32.35" fill="none" stroke="#85a9ff" stroke-width="9.6" stroke-linecap="round"/><path d="M18.83 33.43A35.3 35.3 0 0 1 29.25 21.44" fill="none" stroke="#85a9ff" stroke-width="9.6"/></svg>
<div class="b" style="left:871px;top:374px;width:9px;height:4.6px;background:#85a9ff;border-radius:1.2px;"></div>
<div class="t" style="top:373px;font-size:7.33px;color:#a5acc0;left:885.3px;transform:scaleX(1.0111);transform-origin:left center;-webkit-text-stroke:0.1px;">Paying customer</div>
<div class="t" style="top:373px;font-size:7.33px;color:#a5acc0;left:1047.03px;transform:scaleX(0.9500);transform-origin:right center;-webkit-text-stroke:0.1px;">30%</div>
<div class="b" style="left:871px;top:386px;width:9px;height:4.6px;background:#e9ecf3;border-radius:1.2px;"></div>
<div class="t" style="top:385px;font-size:7.33px;color:#a5acc0;left:885.3px;transform:scaleX(1.0308);transform-origin:left center;-webkit-text-stroke:0.1px;">Non-paying customer</div>
<div class="t" style="top:385px;font-size:7.33px;color:#a5acc0;left:1047.03px;transform:scaleX(0.9500);transform-origin:right center;-webkit-text-stroke:0.1px;">70%</div>
<div class="t" style="top:453px;font-size:14.3px;color:#eff2f6;font-weight:700;left:168px;transform:scaleX(0.9945);transform-origin:left center;">Latest reviews</div>
<div class="t" style="top:471px;font-size:9.17px;color:#8a94ad;left:168px;transform:scaleX(0.9915);transform-origin:left center;">Payment received across all channels</div>
<div class="b" style="left:798px;top:462px;width:183px;height:18.6px;background:#141824;border:1px solid #2c3245;border-radius:3px;"></div>
<svg class="b" style="left:806.7px;top:468.1px;" width="7" height="7" viewBox="0 0 24 24"><g fill="none" stroke="#9fa6bc" stroke-width="3" stroke-linecap="round" stroke-linejoin="round"><circle cx="10.5" cy="10.5" r="7"/><line x1="21" y1="21" x2="15.6" y2="15.6"/></g></svg>
<div class="t" style="top:468px;font-size:7.33px;color:#9fa6bc;-webkit-text-stroke:0.1px;left:821px;transform:scaleX(0.9856);transform-origin:left center;">Search</div>
<div class="b" style="left:986px;top:462.2px;width:60.8px;height:19.3px;background:#141824;border:1px solid #2c3245;border-radius:3px;"></div>
<div class="t" style="top:468px;font-size:7.33px;color:#e3e6ed;font-weight:700;left:995.2px;transform:scaleX(0.9825);transform-origin:left center;">All products</div>
<div class="b" style="left:1051.7px;top:462.2px;width:24.5px;height:19.3px;background:#141824;border:1px solid #2c3245;border-radius:3px;"></div>
<div class="b" style="left:1061.3px;top:471.4px;width:5.2px;height:1px;background:#9fa6bc;border-radius:0.5px;"></div>
<div class="b" style="left:168px;top:500px;width:908.2px;height:1px;background:#252b3c;"></div>
<div class="b" style="left:168px;top:525px;width:908.2px;height:1px;background:#252b3c;"></div>
<div class="b" style="left:168px;top:567px;width:908.2px;height:1px;background:#252b3c;"></div>
<div class="b" style="left:168px;top:608px;width:908.2px;height:1px;background:#252b3c;"></div>
<div class="t" style="top:509px;font-size:7.33px;color:#8e97ae;font-weight:700;left:231.4px;transform:scaleX(0.9935);transform-origin:left center;">PRODUCT</div>
<svg class="b" style="left:270px;top:509px;" width="3.4" height="5.4" viewBox="0 0 3.4 5.4"><path d="M1.7 0L3.3 2.3H0.1ZM0.1 3.1H3.3L1.7 5.4Z" fill="#7d869e"/></svg>
<div class="t" style="top:509px;font-size:7.33px;color:#8e97ae;font-weight:700;left:437.5px;transform:scaleX(0.9806);transform-origin:left center;">CUSTOMER</div>
<svg class="b" style="left:481.1px;top:509px;" width="3.4" height="5.4" viewBox="0 0 3.4 5.4"><path d="M1.7 0L3.3 2.3H0.1ZM0.1 3.1H3.3L1.7 5.4Z" fill="#7d869e"/></svg>
<div class="t" style="top:509px;font-size:7.33px;color:#8e97ae;font-weight:700;left:552px;transform:scaleX(0.9947);transform-origin:left center;">RATING</div>
<svg class="b" style="left:582px;top:509px;" width="3.4" height="5.4" viewBox="0 0 3.4 5.4"><path d="M1.7 0L3.3 2.3H0.1ZM0.1 3.1H3.3L1.7 5.4Z" fill="#7d869e"/></svg>
<div class="t" style="top:509px;font-size:7.33px;color:#8e97ae;font-weight:700;left:615px;transform:scaleX(1.0200);transform-origin:left center;">REVIEW</div>
<svg class="b" style="left:647.1px;top:509px;" width="3.4" height="5.4" viewBox="0 0 3.4 5.4"><path d="M1.7 0L3.3 2.3H0.1ZM0.1 3.1H3.3L1.7 5.4Z" fill="#7d869e"/></svg>
<div class="t" style="top:509px;font-size:7.33px;color:#8e97ae;font-weight:700;left:924px;transform:scaleX(0.9775);transform-origin:left center;">STATUS</div>
<svg class="b" style="left:954.2px;top:509px;" width="3.4" height="5.4" viewBox="0 0 3.4 5.4"><path d="M1.7 0L3.3 2.3H0.1ZM0.1 3.1H3.3L1.7 5.4Z" fill="#7d869e"/></svg>
<div class="t" style="top:509px;font-size:7.33px;color:#8e97ae;font-weight:700;left:1018.6px;transform:scaleX(0.9877);transform-origin:left center;">TIME</div>
<svg class="b" style="left:1038.5px;top:509px;" width="3.4" height="5.4" viewBox="0 0 3.4 5.4"><path d="M1.7 0L3.3 2.3H0.1ZM0.1 3.1H3.3L1.7 5.4Z" fill="#7d869e"/></svg>
<div class="b" style="left:167.8px;top:508.5px;width:9px;height:9px;background:transparent;border:1px solid #31384c;border-radius:2px;"></div>
<div class="b" style="left:167.8px;top:542px;width:9px;height:9px;background:transparent;border:1px solid #31384c;border-radius:2px;"></div>
<div class="b" style="left:190px;top:530.2px;width:32px;height:31.8px;background:#141824;border:1px solid #272d3f;border-radius:3.5px;"></div>
<svg class="b" style="left:190.35px;top:530.2px" width="32" height="32" viewBox="-16 -16 32 32"><ellipse cx="-2.2" cy="0" rx="5.6" ry="8.8" fill="#0e1018"/><ellipse cx="-2.6" cy="0" rx="3.6" ry="6.4" fill="#07080d"/><path d="M-0.6 -7.4L6.2 -6.4Q8.6 -1 6.6 4.6L0.2 6.6Q2.8 -0.4 -0.6 -7.4Z" fill="#1c2130"/><path d="M1.4 -5.6L6 -4.8Q7.4 -1 6 2.8L2.4 4Q3.8 -0.6 1.4 -5.6Z" fill="#10131c"/><path d="M2.6 -4.4L3.6 -0.6M4.2 -4.2L5.6 -4L4.6 -0.8" stroke="#9ea6ba" stroke-width="0.6" fill="none"/><circle cx="6.2" cy="-2.4" r="0.7" fill="#52d238"/></svg>
<div class="t" style="top:543px;font-size:7.33px;color:#85a9ff;left:231.4px;transform:scaleX(1.0353);transform-origin:left center;-webkit-text-stroke:0.16px;">Fitbit Sense Advanced Smartwatch with Tools fo...</div>
<div class="b" style="left:437.2px;top:534.9px;width:22.8px;height:22.8px;border-radius:50%;background:#222838;"></div><div class="t" style="left:446.05px;top:542.75px;font-size:7.2px;font-weight:400;-webkit-text-stroke:0.25px;color:#5f7cc4;">R</div>
<div class="t" style="top:543px;font-size:7.33px;color:#cdd2df;left:469.6px;transform:scaleX(1.0403);transform-origin:left center;-webkit-text-stroke:0.16px;">Richard Dawkins</div>
<svg class="b" style="left:552.2px;top:543px;" width="33" height="6.6" viewBox="0 0 33 6.6"><path transform="translate(0.0,0)" d="M3.3 0.2L4.25 2.25L6.5 2.5L4.85 4.05L5.3 6.3L3.3 5.2L1.3 6.3L1.75 4.05L0.1 2.5L2.35 2.25Z" fill="#f5dcc0" stroke="#f5dcc0" stroke-width="0.3" stroke-linejoin="round"/><path transform="translate(6.6,0)" d="M3.3 0.2L4.25 2.25L6.5 2.5L4.85 4.05L5.3 6.3L3.3 5.2L1.3 6.3L1.75 4.05L0.1 2.5L2.35 2.25Z" fill="#f5dcc0" stroke="#f5dcc0" stroke-width="0.3" stroke-linejoin="round"/><path transform="translate(13.2,0)" d="M3.3 0.2L4.25 2.25L6.5 2.5L4.85 4.05L5.3 6.3L3.3 5.2L1.3 6.3L1.75 4.05L0.1 2.5L2.35 2.25Z" fill="#f5dcc0" stroke="#f5dcc0" stroke-width="0.3" stroke-linejoin="round"/><path transform="translate(19.799999999999997,0)" d="M3.3 0.2L4.25 2.25L6.5 2.5L4.85 4.05L5.3 6.3L3.3 5.2L1.3 6.3L1.75 4.05L0.1 2.5L2.35 2.25Z" fill="#f5dcc0" stroke="#f5dcc0" stroke-width="0.3" stroke-linejoin="round"/><path transform="translate(26.4,0)" d="M3.3 0.2L4.25 2.25L6.5 2.5L4.85 4.05L5.3 6.3L3.3 5.2L1.3 6.3L1.75 4.05L0.1 2.5L2.35 2.25Z" fill="#f5dcc0" stroke="#f5dcc0" stroke-width="0.3" stroke-linejoin="round"/></svg>
<div class="t" style="top:537px;font-size:7.33px;color:#e3e6ed;left:615px;transform:scaleX(1.0286);transform-origin:left center;-webkit-text-stroke:0.16px;">This Fitbit is fantastic! I was trying to be in better shape and needed some motivation,</div>
<div class="t" style="top:548px;font-size:7.33px;color:#e3e6ed;left:615px;transform:scaleX(1.0374);transform-origin:left center;-webkit-text-stroke:0.16px;">so I decided to treat myself to a new Fitbit.</div>
<div class="b" style="left:924px;top:542px;width:53px;height:9.8px;background:#1d2a2c;border:1px solid #33553c;border-radius:2px;"></div>
<div class="t" style="top:545px;font-size:5.9px;color:#7fdb63;font-weight:700;left:929px;transform:scaleX(0.9769);transform-origin:left center;">APPROVED</div>
<svg class="b" style="left:964.6px;top:544.7px;" width="6.4" height="4.6" viewBox="0 0 6.4 4.6"><path d="M0.5 2.5L2.2 4.1L5.9 0.5" fill="none" stroke="#7fdb63" stroke-width="0.9" stroke-linecap="round" stroke-linejoin="round"/></svg>
<div class="t" style="top:543px;font-size:7.33px;color:#eff2f6;left:1013.28px;transform:scaleX(1.0269);transform-origin:right center;-webkit-text-stroke:0.22px;">Just now</div>
<div class="b" style="left:1061.6px;top:545.8px;width:4.8px;height:1px;background:#3e465b;border-radius:0.5px;"></div>
<div class="b" style="left:167.8px;top:583.2px;width:9px;height:9px;background:transparent;border:1px solid #31384c;border-radius:2px;"></div>
<div class="b" style="left:190px;top:571.4px;width:32px;height:31.8px;background:#141824;border:1px solid #272d3f;border-radius:3.5px;"></div>
<svg class="b" style="left:190.35px;top:571.4px" width="32" height="32" viewBox="-16 -16 32 32"><defs><pattern id="ph" width="1.6" height="1.6" patternUnits="userSpaceOnUse"><rect width="1.6" height="1.6" fill="#c4c9d6"/><rect width="0.8" height="0.8" fill="#6f90e6"/><rect x="0.8" y="0.8" width="0.8" height="0.8" fill="#8aa4ea"/></pattern></defs><rect x="1.6" y="-9.6" width="6.6" height="19" rx="1" fill="#10131c"/><path d="M2.4 -3.4L6.8 -7.6L7 -4.2L4.6 -1.4L7 -0.4L6.6 6.2L3.6 2.4Z" fill="#4f78de"/><path d="M3 -2.6L5.4 -5L5 -2.2Z" fill="#8fb0ff"/><rect x="-8" y="-10.6" width="10.2" height="21.6" rx="1.6" fill="#c9cdd8"/><rect x="-6.8" y="-4.6" width="7.4" height="13.4" fill="url(#ph)"/><rect x="-7.2" y="-9.8" width="4.2" height="4.2" rx="1" fill="#555c70"/><circle cx="-6" cy="-8.6" r="0.8" fill="#161922"/><circle cx="-4.2" cy="-6.8" r="0.8" fill="#161922"/></svg>
<div class="t" style="top:584px;font-size:7.33px;color:#85a9ff;left:231.4px;transform:scaleX(1.0267);transform-origin:left center;-webkit-text-stroke:0.16px;">iPhone 13 pro max-Pacific Blue-128GB storage</div>
<svg class="b" style="left:437.2px;top:576.1px" width="22.8" height="22.8" viewBox="0 0 22.8 22.8"><defs><clipPath id="av2"><circle cx="11.4" cy="11.4" r="11.4"/></clipPath></defs><g clip-path="url(#av2)"><rect width="22.8" height="22.8" fill="#7a808f"/><path d="M5.4 22.8C4.6 16 5.4 8 7.4 5.2C9 3 13.8 3 15.4 5.2C17.4 8 18.2 16 17.4 22.8Z" fill="#14161e"/><ellipse cx="11.4" cy="9.8" rx="2.7" ry="3.9" fill="#c98a55"/><path d="M9.6 12.6h3.6l0.6 10.2h-4.8z" fill="#b0672f"/><path d="M1.6 22.8C2.4 18.6 5.6 16.6 9.4 16L11.4 20L13.4 16C17.2 16.6 20.4 18.6 21.2 22.8Z" fill="#1a1c26"/><path d="M10.2 15.4L11.4 22.8L12.6 15.4Z" fill="#c06a2c"/></g></svg>
<div class="t" style="top:584px;font-size:7.33px;color:#cdd2df;left:469.6px;transform:scaleX(1.0588);transform-origin:left center;-webkit-text-stroke:0.16px;">Ashley Garrett</div>
<svg class="b" style="left:552.2px;top:584.2px;" width="33" height="6.6" viewBox="0 0 33 6.6"><path transform="translate(0.0,0)" d="M3.3 0.2L4.25 2.25L6.5 2.5L4.85 4.05L5.3 6.3L3.3 5.2L1.3 6.3L1.75 4.05L0.1 2.5L2.35 2.25Z" fill="#f5dcc0" stroke="#f5dcc0" stroke-width="0.3" stroke-linejoin="round"/><path transform="translate(6.6,0)" d="M3.3 0.2L4.25 2.25L6.5 2.5L4.85 4.05L5.3 6.3L3.3 5.2L1.3 6.3L1.75 4.05L0.1 2.5L2.35 2.25Z" fill="#f5dcc0" stroke="#f5dcc0" stroke-width="0.3" stroke-linejoin="round"/><path transform="translate(13.2,0)" d="M3.3 0.2L4.25 2.25L6.5 2.5L4.85 4.05L5.3 6.3L3.3 5.2L1.3 6.3L1.75 4.05L0.1 2.5L2.35 2.25Z" fill="#f5dcc0" stroke="#f5dcc0" stroke-width="0.3" stroke-linejoin="round"/><path transform="translate(19.799999999999997,0)" d="M3.3 0.2L4.25 2.25L6.5 2.5L4.85 4.05L5.3 6.3L3.3 5.2L1.3 6.3L1.75 4.05L0.1 2.5L2.35 2.25Z" fill="none" stroke="#efd4b6" stroke-width="0.7" stroke-linejoin="round"/><path transform="translate(26.4,0)" d="M3.3 0.2L4.25 2.25L6.5 2.5L4.85 4.05L5.3 6.3L3.3 5.2L1.3 6.3L1.75 4.05L0.1 2.5L2.35 2.25Z" fill="none" stroke="#efd4b6" stroke-width="0.7" stroke-linejoin="round"/></svg>
<div class="t" style="top:578px;font-size:7.33px;color:#e3e6ed;left:615px;transform:scaleX(1.0244);transform-origin:left center;-webkit-text-stroke:0.16px;">The order was delivered ahead of schedule. To give us additional time, you should</div>
<div class="t" style="top:589px;font-size:7.33px;color:#e3e6ed;left:615px;transform:scaleX(1.0331);transform-origin:left center;-webkit-text-stroke:0.16px;">leave the packaging sealed with plastic.</div>
<div class="b" style="left:924px;top:583.2px;width:53px;height:9.8px;background:#1d2a2c;border:1px solid #33553c;border-radius:2px;"></div>
<div class="t" style="top:586px;font-size:5.9px;color:#7fdb63;font-weight:700;left:929px;transform:scaleX(0.9769);transform-origin:left center;">APPROVED</div>
<svg class="b" style="left:964.6px;top:585.9px;" width="6.4" height="4.6" viewBox="0 0 6.4 4.6"><path d="M0.5 2.5L2.2 4.1L5.9 0.5" fill="none" stroke="#7fdb63" stroke-width="0.9" stroke-linecap="round" stroke-linejoin="round"/></svg>
<div class="t" style="top:584px;font-size:7.33px;color:#eff2f6;left:1013.28px;transform:scaleX(1.0269);transform-origin:right center;-webkit-text-stroke:0.22px;">Just now</div>
<div class="b" style="left:1061.6px;top:587px;width:4.8px;height:1px;background:#3e465b;border-radius:0.5px;"></div>
<div class="b" style="left:190px;top:614.2px;width:32px;height:31.8px;background:#141824;border:1px solid #272d3f;border-radius:3.5px;"></div>
<div class="b" style="left:444.5px;top:617.2px;width:6px;height:2px;background:#c8ccd6;border-radius:1px;"></div>
</div></div>
</body></html>
